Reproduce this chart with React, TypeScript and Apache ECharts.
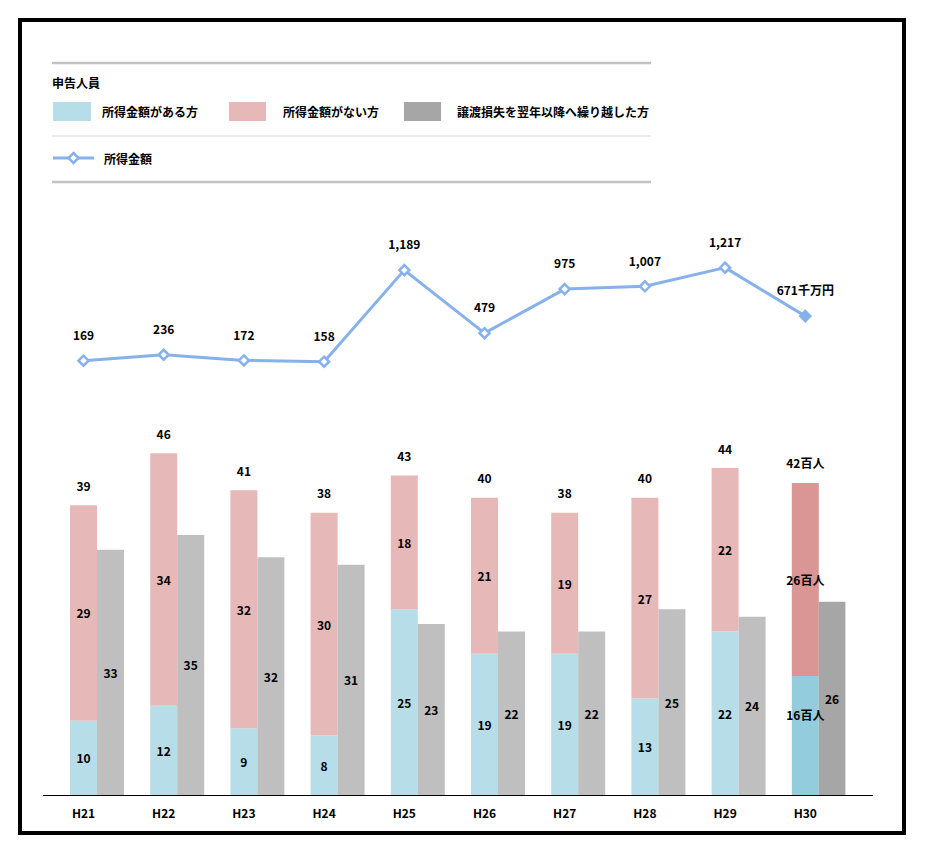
import React, { useEffect, useRef } from "react";
import * as echarts from "echarts";

// ---- data ----
const years = ["H21", "H22", "H23", "H24", "H25", "H26", "H27", "H28", "H29", "H30"];
const withIncome = [10, 12, 9, 8, 25, 19, 19, 13, 22, 16]; // 所得金額がある方 (百人)
const withoutIncome = [29, 34, 32, 30, 18, 21, 19, 27, 22, 26]; // 所得金額がない方 (百人)
const carryOver = [33, 35, 32, 31, 23, 22, 22, 25, 24, 26]; // 譲渡損失を翌年以降へ繰り越した方 (百人)
const totals = [39, 46, 41, 38, 43, 40, 38, 40, 44, 42]; // 申告人員 合計 (百人)
const income = [169, 236, 172, 158, 1189, 479, 975, 1007, 1217, 671]; // 所得金額 (千万円)

const peopleUnit = "百人";
const moneyUnit = "千万円";

const legendTitle = "申告人員";
const legendNames = ["所得金額がある方", "所得金額がない方", "譲渡損失を翌年以降へ繰り越した方"];
const lineName = "所得金額";

// ---- styles ----
const FONT = '"Noto Sans CJK JP", "Noto Sans", sans-serif';
const BLUE = "#b7dde8";
const PINK = "#e6b9b8";
const GRAY = "#bfbfbf";
const BLUE_HL = "#93cddd";
const PINK_HL = "#d99694";
const GRAY_HL = "#a6a6a6";
const LINE = "#86b1ea";

const GRID_LEFT = 43.4;
const GRID_WIDTH = 802;
const BAR_W = 27;

export default function App() {
  const ref = useRef<HTMLDivElement>(null);

  useEffect(() => {
    if (!ref.current) return;
    const chart = echarts.init(ref.current, null, { renderer: "svg" });
    const last = years.length - 1;

    const labelBase = {
      color: "#000",
      fontWeight: "bold" as const,
      fontSize: 12,
      fontFamily: FONT,
    };

    const blueData = withIncome.map((v, i) =>
      i === last
        ? { value: v, itemStyle: { color: BLUE_HL }, label: { formatter: v + peopleUnit, offset: [0, -21] } }
        : v
    );
    const pinkData = withoutIncome.map((v, i) =>
      i === last ? { value: v, itemStyle: { color: PINK_HL }, label: { formatter: v + peopleUnit } } : v
    );
    const grayData = carryOver.map((v, i) => (i === last ? { value: v, itemStyle: { color: GRAY_HL } } : v));
    const lineData = income.map((v, i) =>
      i === last
        ? {
            value: v,
            itemStyle: { color: LINE, borderColor: LINE },
            label: { formatter: v.toLocaleString("en-US") + moneyUnit },
          }
        : v
    );

    const legendTextStyle = (text: string, x: number, y: number) => ({
      type: "text",
      style: { text, x, y, font: `bold 12px ${FONT}`, fill: "#000", align: "left", verticalAlign: "middle" },
      silent: true,
    });

    const option: any = {
      animation: false,
      backgroundColor: "#fff",
      grid: [
        { left: GRID_LEFT, width: GRID_WIDTH, top: 423.5, height: 371.5 },
        { left: GRID_LEFT, width: GRID_WIDTH, top: 242.5, height: 133.2 },
      ],
      xAxis: [
        {
          type: "category",
          gridIndex: 0,
          data: years,
          boundaryGap: true,
          axisLine: { show: false },
          axisTick: { show: false },
          axisLabel: { ...labelBase, margin: 11 },
        },
        { type: "category", gridIndex: 1, data: years, boundaryGap: true, show: false },
      ],
      yAxis: [
        { type: "value", gridIndex: 0, min: 0, max: 50, show: false, splitLine: { show: false } },
        { type: "value", gridIndex: 1, min: 0, max: 1500, show: false, splitLine: { show: false } },
      ],
      series: [
        {
          // empty column so that the stacked column sits on the category centre
          type: "bar",
          name: "_spacer",
          stack: "spacer",
          xAxisIndex: 0,
          yAxisIndex: 0,
          barWidth: BAR_W,
          barGap: 0,
          data: years.map(() => null),
          silent: true,
        },
        {
          type: "bar",
          name: legendNames[0],
          stack: "people",
          stackStrategy: "all",
          xAxisIndex: 0,
          yAxisIndex: 0,
          barWidth: BAR_W,
          barGap: 0,
          itemStyle: { color: BLUE },
          label: { show: true, position: "inside", ...labelBase },
          data: blueData,
        },
        {
          type: "bar",
          name: legendNames[1],
          stack: "people",
          stackStrategy: "all",
          xAxisIndex: 0,
          yAxisIndex: 0,
          barWidth: BAR_W,
          barGap: 0,
          itemStyle: { color: PINK },
          label: { show: true, position: "inside", ...labelBase },
          data: pinkData,
        },
        {
          // carrier of the total labels on top of each stack
          type: "bar",
          name: "_total",
          stack: "people",
          stackStrategy: "all",
          xAxisIndex: 0,
          yAxisIndex: 0,
          barWidth: BAR_W,
          barGap: 0,
          itemStyle: { color: "transparent" },
          label: {
            show: true,
            position: "top",
            distance: 14,
            ...labelBase,
            formatter: (p: any) => totals[p.dataIndex] + (p.dataIndex === last ? peopleUnit : ""),
          },
          data: totals.map(() => 0),
          silent: true,
        },
        {
          type: "bar",
          name: legendNames[2],
          stack: "carry",
          xAxisIndex: 0,
          yAxisIndex: 0,
          barWidth: BAR_W,
          barGap: 0,
          itemStyle: { color: GRAY },
          label: { show: true, position: "inside", ...labelBase },
          data: grayData,
        },
        {
          type: "line",
          name: lineName,
          xAxisIndex: 1,
          yAxisIndex: 1,
          symbol: "diamond",
          symbolSize: 10,
          showAllSymbol: true,
          lineStyle: { color: LINE, width: 3 },
          itemStyle: { color: "#fff", borderColor: LINE, borderWidth: 2.5 },
          label: {
            show: true,
            position: "top",
            distance: 14,
            ...labelBase,
            formatter: (p: any) => Number(p.value).toLocaleString("en-US"),
          },
          data: lineData,
        },
      ],
      graphic: [
        // outer frame
        {
          type: "rect",
          shape: { x: 20, y: 20, width: 884, height: 813 },
          style: { fill: "transparent", stroke: "#000", lineWidth: 4 },
          silent: true,
          z: 100,
        },
        // horizontal axis line
        {
          type: "line",
          shape: { x1: 43, y1: 795.5, x2: 873, y2: 795.5 },
          style: { stroke: "#000", lineWidth: 1 },
          silent: true,
          z: 50,
        },
        // legend box lines
        {
          type: "line",
          shape: { x1: 52, y1: 63, x2: 651, y2: 63 },
          style: { stroke: "#c3c3c3", lineWidth: 2.5 },
          silent: true,
        },
        {
          type: "line",
          shape: { x1: 52, y1: 136, x2: 651, y2: 136 },
          style: { stroke: "#d6d6d6", lineWidth: 1 },
          silent: true,
        },
        {
          type: "line",
          shape: { x1: 52, y1: 182, x2: 651, y2: 182 },
          style: { stroke: "#c3c3c3", lineWidth: 2.5 },
          silent: true,
        },
        legendTextStyle(legendTitle, 52, 82),
        { type: "rect", shape: { x: 53, y: 102, width: 38, height: 19 }, style: { fill: BLUE }, silent: true },
        legendTextStyle(legendNames[0], 102, 111),
        { type: "rect", shape: { x: 229, y: 102, width: 37, height: 19 }, style: { fill: PINK }, silent: true },
        legendTextStyle(legendNames[1], 283, 111),
        { type: "rect", shape: { x: 404, y: 102, width: 37, height: 19 }, style: { fill: GRAY_HL }, silent: true },
        legendTextStyle(legendNames[2], 457, 111),
        {
          type: "line",
          shape: { x1: 53, y1: 158, x2: 94, y2: 158 },
          style: { stroke: LINE, lineWidth: 3 },
          silent: true,
        },
        {
          type: "polygon",
          shape: { points: [[73.5, 153], [78.5, 158], [73.5, 163], [68.5, 158]] },
          style: { fill: "#fff", stroke: LINE, lineWidth: 2.5 },
          silent: true,
        },
        legendTextStyle(lineName, 104, 158),
      ],
    };

    chart.setOption(option);
    return () => chart.dispose();
  }, []);

  return (
    <div
      ref={ref}
      style={{ position: "fixed", left: 0, top: 0, width: 926, height: 843, background: "#fff" }}
    />
  );
}
